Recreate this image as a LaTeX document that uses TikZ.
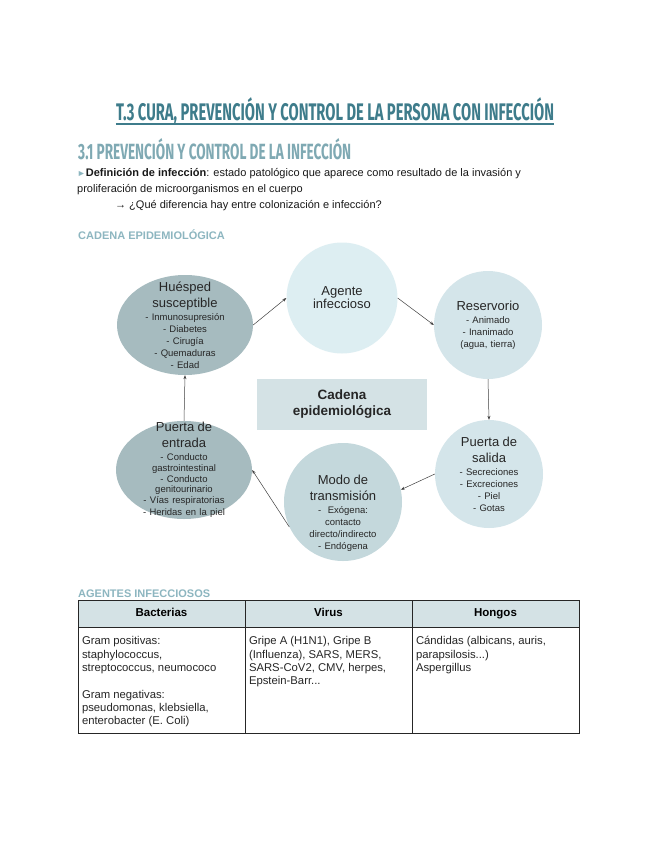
\documentclass[tikz,border=0pt]{standalone}
\usepackage{fontspec}
\setmainfont{Liberation Sans}
\newfontfamily\headfont{Fira Sans}
\usepackage{graphicx}
\usepackage{xcolor}
\usetikzlibrary{arrows.meta,positioning,shapes.geometric}
\definecolor{tealdark}{HTML}{3E7C8B}
\definecolor{tealmid}{HTML}{7FA9B3}
\definecolor{teallight}{HTML}{8DB6C0}
\definecolor{hostgray}{HTML}{A6BBBF}
\definecolor{agentblue}{HTML}{DDEEF2}
\definecolor{paleblue}{HTML}{D4E5EA}
\definecolor{modeblue}{HTML}{C4D8DC}
\definecolor{boxblue}{HTML}{D4E2E5}
\tikzstyle{pale}=[circle, fill=paleblue, minimum size=108pt, inner sep=-14pt,
  text width=100pt, align=center, text=black!85]
\tikzstyle{host}=[ellipse, fill=hostgray, minimum width=136pt, minimum height=100pt,
  inner sep=-16pt, text width=110pt, align=center, text=black!85]
\tikzstyle{arrow}=[-{Stealth[length=4pt,width=3pt]}, black!75, line width=0.5pt]
\tikzstyle{head}=[rectangle, draw=black!85, line width=1pt, fill=boxblue, outer sep=0pt,
  minimum width=167pt, minimum height=27pt, inner sep=0pt,
  text height=8.5pt, text depth=2.5pt,
  font=\fontsize{11.5}{13}\selectfont\bfseries]
\tikzstyle{cell}=[rectangle, draw=black!85, line width=1pt, outer sep=0pt,
  inner xsep=4pt, inner ysep=8.5pt, text=black!85,
  font=\fontsize{11.3}{13.3}\selectfont]
\newcommand{\circhead}{\fontsize{13}{16}\selectfont}
\newcommand{\circitem}{\fontsize{9.5}{12}\selectfont}
\newcommand{\cellbox}[1]{\parbox[t][89pt][t]{159pt}{\raggedright\strut #1}}

\begin{document}
\begin{tikzpicture}[x=1pt,y=-1pt]
\useasboundingbox (0,0) rectangle (655,848);
\fill[white] (0,0) rectangle (655,848);

% headings
\node (title) [anchor=base, inner sep=0pt, text=tealdark] at (335,121)
  {\resizebox{438pt}{\height}{\headfont\bfseries\fontsize{24}{24}\selectfont T.3 CURA, PREVENCIÓN Y CONTROL DE LA PERSONA CON INFECCIÓN}};
\draw[tealdark, line width=1.3pt] ([yshift=-3pt]title.base west) -- ([yshift=-3pt]title.base east);
\node (sub) [anchor=base west, inner sep=0pt, text=tealmid] at (78,159)
  {\resizebox{273pt}{\height}{\headfont\bfseries\fontsize{22}{22}\selectfont 3.1 PREVENCIÓN Y CONTROL DE LA INFECCIÓN}};
\node (def) [anchor=base west, inner sep=0pt, align=left, text=black!90,
  font=\fontsize{11}{16}\selectfont] at (77,208)
  {{\color{teallight}\scalebox{0.8}{►}}\textbf{Definición de infección}: estado patológico que aparece como resultado de la invasión y\\
   proliferación de microorganismos en el cuerpo\\
   \hspace*{38pt}→ ¿Qué diferencia hay entre colonización e infección?};
\node (chain) [anchor=base west, inner sep=0pt, text=teallight,
  font=\fontsize{11}{13}\selectfont\bfseries] at (78,239) {CADENA EPIDEMIOLÓGICA};

% cycle
\node (hues) [host] at (185,325)
  {\circhead Huésped\\susceptible\\[1pt]\circitem - Inmunosupresión\\- Diabetes\\- Cirugía\\- Quemaduras\\- Edad};
\node (agente) [pale, fill=agentblue, minimum size=111pt] at (342,298)
  {\circhead Agente\\infeccioso};
\node (reserv) [pale] at (488,325)
  {\circhead Reservorio\\[1pt]\circitem - Animado\\- Inanimado\\(agua, tierra)};
\node (salida) [pale] at (489,474)
  {\circhead Puerta de\\salida\\[1pt]\circitem - Secreciones\\- Excreciones\\- Piel\\- Gotas};
\node (modo) [pale, fill=modeblue, minimum size=118pt] at (343,502)
  {\rule{0pt}{32pt}\circhead Modo de\\transmisión\\[1pt]\circitem - \ Exógena:\\contacto\\directo/indirecto\\- Endógena};
\node (entrada) [host, minimum height=98pt] at (184,470)
  {\circhead Puerta de\\entrada\\[2pt]\fontsize{9.5}{10.8}\selectfont - Conducto\\gastrointestinal\\- Conducto\\genitourinario\\- Vías respiratorias\\- Heridas en la piel};
\node (cadena) [rectangle, fill=boxblue, minimum width=170pt, minimum height=51pt,
  align=center, font=\fontsize{13.5}{16}\selectfont\bfseries, text=black!85] at (342,404.5)
  {Cadena\\epidemiológica};

\draw[arrow] (hues.east) -- (agente.west);
\draw[arrow] (agente.east) -- (reserv.west);
\draw[arrow] (reserv.south) -- (salida.north);
\draw[arrow] (salida.west) -- (modo.12);
\draw[arrow] (modo.205) -- (entrada.east);
\draw[arrow] (entrada.north) -- (hues.south);

% table
\node (agents) [anchor=base west, inner sep=0pt, text=teallight,
  font=\fontsize{11}{13}\selectfont\bfseries] at (78,597) {AGENTES INFECCIOSOS};
\node (bac) [head, anchor=north west] at (78,600) {Bacterias};
\node (vir) [head, right=0pt of bac] {Virus};
\node (hon) [head, right=0pt of vir] {Hongos};
\node (bacT) [cell, below=0pt of bac] {\cellbox{Gram positivas:\\staphylococcus,\\streptococcus, neumococo\\[13.5pt]Gram negativas:\\pseudomonas, klebsiella,\\enterobacter (E. Coli)}};
\node (virT) [cell, below=0pt of vir] {\cellbox{Gripe A (H1N1), Gripe B\\(Influenza), SARS, MERS,\\SARS-CoV2, CMV, herpes,\\Epstein-Barr...}};
\node (honT) [cell, below=0pt of hon] {\cellbox{Cándidas (albicans, auris,\\parapsilosis...)\\Aspergillus}};
\end{tikzpicture}
\end{document}
